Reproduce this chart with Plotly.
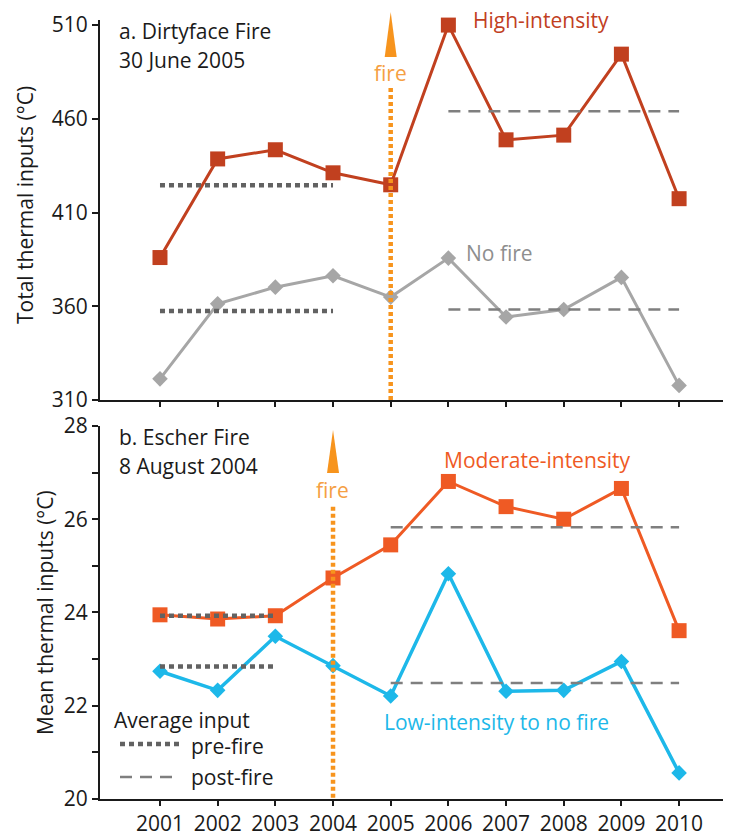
import plotly.graph_objects as go

years = [2001, 2002, 2003, 2004, 2005, 2006, 2007, 2008, 2009, 2010]

# Panel a: Dirtyface Fire (total thermal inputs, °C)
high_intensity = [386, 438.6, 443.5, 431.2, 424.8, 510, 448.8, 451.3, 494.5, 417.4]
no_fire = [321.3, 361.3, 370.2, 376.3, 364.9, 385.7, 354.3, 358.3, 375.4, 317.8]
a_pre_high, a_post_high = 424.5, 464.0
a_pre_none, a_post_none = 357.5, 358.3
a_fire_year = 2005

# Panel b: Escher Fire (mean thermal inputs, °C)
moderate = [23.95, 23.86, 23.93, 24.74, 25.45, 26.81, 26.27, 26.0, 26.66, 23.61]
low_none = [22.74, 22.33, 23.49, 22.86, 22.21, 24.83, 22.31, 22.33, 22.95, 20.56]
b_pre_mod, b_post_mod = 23.93, 25.83
b_pre_low, b_post_low = 22.84, 22.49
b_fire_year = 2004

a_ticks = [310, 360, 410, 460, 510]
b_ticks = [20, 22, 24, 26, 28]
x_ticks = years

FONT = "Open Sans"
OFF = 8  # page body margin
W, H = 723, 826
ML, MR, MT, MB = 92, 0, 0, 35
XR = [1999.96, 2010.9]
A_DOM = [0.5044, 0.9848]
A_RNG = [310, 512.7]
B_DOM = [0.0, 0.4716]
B_RNG = [20, 28]

C_HIGH = "#C1401F"
C_NONE = "#A6A6A6"
C_MOD = "#EF5A24"
C_LOW = "#1DB8E9"
C_FIRE = "#F7941D"
C_FIRE_TXT = "#F5A043"
C_PRE = "#626262"
C_POST = "#7F7F7F"


def px(x):
    return (x - OFF - ML) / (W - ML - MR)


def py(y):
    return (H - MB - (y - OFF)) / (H - MB - MT)


def xpaper(year):
    return (year - XR[0]) / (XR[1] - XR[0])


fig = go.Figure()

# ---- Panel a ----
fig.add_trace(go.Scatter(x=years, y=high_intensity, mode="lines+markers",
                         line=dict(color=C_HIGH, width=3),
                         marker=dict(symbol="square", size=15, color=C_HIGH),
                         xaxis="x", yaxis="y", cliponaxis=False))
fig.add_trace(go.Scatter(x=years, y=no_fire, mode="lines+markers",
                         line=dict(color=C_NONE, width=3),
                         marker=dict(symbol="diamond", size=12, color=C_NONE),
                         xaxis="x", yaxis="y", cliponaxis=False))
pre_a = [y for y in years if y < a_fire_year]
post_a = [y for y in years if y > a_fire_year]
for yrs, val, dash, w, c in [
    ([pre_a[0], pre_a[-1]], a_pre_high, "5px,4px", 4.5, C_PRE),
    ([pre_a[0], pre_a[-1]], a_pre_none, "5px,4px", 4.5, C_PRE),
    ([post_a[0], post_a[-1]], a_post_high, "12px,8px", 2.5, C_POST),
    ([post_a[0], post_a[-1]], a_post_none, "12px,8px", 2.5, C_POST),
]:
    fig.add_trace(go.Scatter(x=yrs, y=[val, val], mode="lines",
                             line=dict(color=c, width=w, dash=dash),
                             xaxis="x", yaxis="y"))
fig.add_trace(go.Scatter(x=[a_fire_year, a_fire_year], y=[476.4, 310], mode="lines",
                         line=dict(color=C_FIRE, width=4.5, dash="4px,3px"),
                         xaxis="x", yaxis="y", cliponaxis=False))

# ---- Panel b ----
fig.add_trace(go.Scatter(x=years, y=moderate, mode="lines+markers",
                         line=dict(color=C_MOD, width=3),
                         marker=dict(symbol="square", size=15, color=C_MOD),
                         xaxis="x2", yaxis="y2", cliponaxis=False))
fig.add_trace(go.Scatter(x=years, y=low_none, mode="lines+markers",
                         line=dict(color=C_LOW, width=3.5),
                         marker=dict(symbol="diamond", size=12, color=C_LOW),
                         xaxis="x2", yaxis="y2", cliponaxis=False))
pre_b = [y for y in years if y < b_fire_year]
post_b = [y for y in years if y > b_fire_year]
for yrs, val, dash, w, c in [
    ([pre_b[0], pre_b[-1]], b_pre_mod, "5px,4px", 4.5, C_PRE),
    ([pre_b[0], pre_b[-1]], b_pre_low, "5px,4px", 4.5, C_PRE),
    ([post_b[0], post_b[-1]], b_post_mod, "12px,8px", 2.5, C_POST),
    ([post_b[0], post_b[-1]], b_post_low, "12px,8px", 2.5, C_POST),
]:
    fig.add_trace(go.Scatter(x=yrs, y=[val, val], mode="lines",
                             line=dict(color=c, width=w, dash=dash),
                             xaxis="x2", yaxis="y2"))
fig.add_trace(go.Scatter(x=[b_fire_year, b_fire_year], y=[26.27, 20], mode="lines",
                         line=dict(color=C_FIRE, width=4.5, dash="4px,3px"),
                         xaxis="x2", yaxis="y2", cliponaxis=False))

# Fire arrows (triangles)
shapes = []
for fy, tip, base in [(a_fire_year, py(12), py(57)), (b_fire_year, py(430), py(473))]:
    xc = xpaper(fy)
    hw = 6 / (W - ML - MR)
    shapes.append(dict(type="path", xref="paper", yref="paper",
                       path=f"M {xc - hw} {base} L {xc} {tip} L {xc + hw} {base} Z",
                       fillcolor=C_FIRE, line=dict(width=0)))

# legend samples
shapes.append(dict(type="line", xref="paper", yref="paper",
                   x0=px(120), x1=px(182), y0=py(744), y1=py(744),
                   line=dict(color=C_PRE, width=4.5, dash="5px,4px")))
shapes.append(dict(type="line", xref="paper", yref="paper",
                   x0=px(120), x1=px(178), y0=py(777), y1=py(777),
                   line=dict(color=C_POST, width=2.5, dash="12px,8px")))

ann = []
TS = 21


def text(t, x, y, color="#1a1a1a", size=TS, anchor="left"):
    ann.append(dict(text=t, x=px(x), y=py(y), xref="paper", yref="paper",
                    xanchor=anchor, yanchor="middle", showarrow=False,
                    font=dict(family=FONT, size=size, color=color)))


text("a. Dirtyface Fire", 117, 31)
text("30 June 2005", 117, 60)
text("High-intensity", 471, 20, C_HIGH)
text("No fire", 464, 253, "#8E8E8E")
text("fire", 390, 73, C_FIRE_TXT, anchor="center")
text("b. Escher Fire", 117, 437)
text("8 August 2004", 117, 466)
text("fire", 332, 490, C_FIRE_TXT, anchor="center")
text("Moderate-intensity", 442, 460, C_MOD)
text("Low-intensity to no fire", 382, 722, C_LOW)
text("Average input", 112, 720)
text("pre-fire", 189, 746)
text("post-fire", 189, 777)

# axis titles
for t, x, y in [("Total thermal inputs (°C)", 25, 205), ("Mean thermal inputs (°C)", 45, 613)]:
    ann.append(dict(text=t, x=px(x), y=py(y), xref="paper", yref="paper",
                    xanchor="center", yanchor="middle", showarrow=False, textangle=-90,
                    font=dict(family=FONT, size=21, color="#1a1a1a")))

axis_common = dict(showline=True, linecolor="#1a1a1a", linewidth=2, ticks="outside",
                   tickwidth=1.5, tickcolor="#1a1a1a", showgrid=False,
                   zeroline=False, automargin=False,
                   tickfont=dict(family=FONT, size=21, color="#1a1a1a"))

fig.update_layout(
    width=W, height=H, margin=dict(l=ML, r=MR, t=MT, b=MB, pad=0),
    paper_bgcolor="white", plot_bgcolor="white", showlegend=False,
    xaxis=dict(domain=[0, 1], range=XR, anchor="y", tickvals=x_ticks, ticklen=5,
               showticklabels=False, **axis_common),
    yaxis=dict(domain=A_DOM, range=A_RNG, anchor="x", tickvals=a_ticks, ticklen=6,
               **axis_common),
    xaxis2=dict(domain=[0, 1], range=XR, anchor="y2", tickvals=x_ticks, ticklen=5,
                ticktext=[str(y) for y in x_ticks], **axis_common),
    yaxis2=dict(domain=B_DOM, range=B_RNG, anchor="x2", tickvals=b_ticks, ticklen=6,
                minor=dict(ticks="outside", tickvals=[21, 23, 25, 27], ticklen=6,
                           tickwidth=1.5, tickcolor="#1a1a1a"),
                **axis_common),
    shapes=shapes, annotations=ann,
)

fig.write_html("out.html")
